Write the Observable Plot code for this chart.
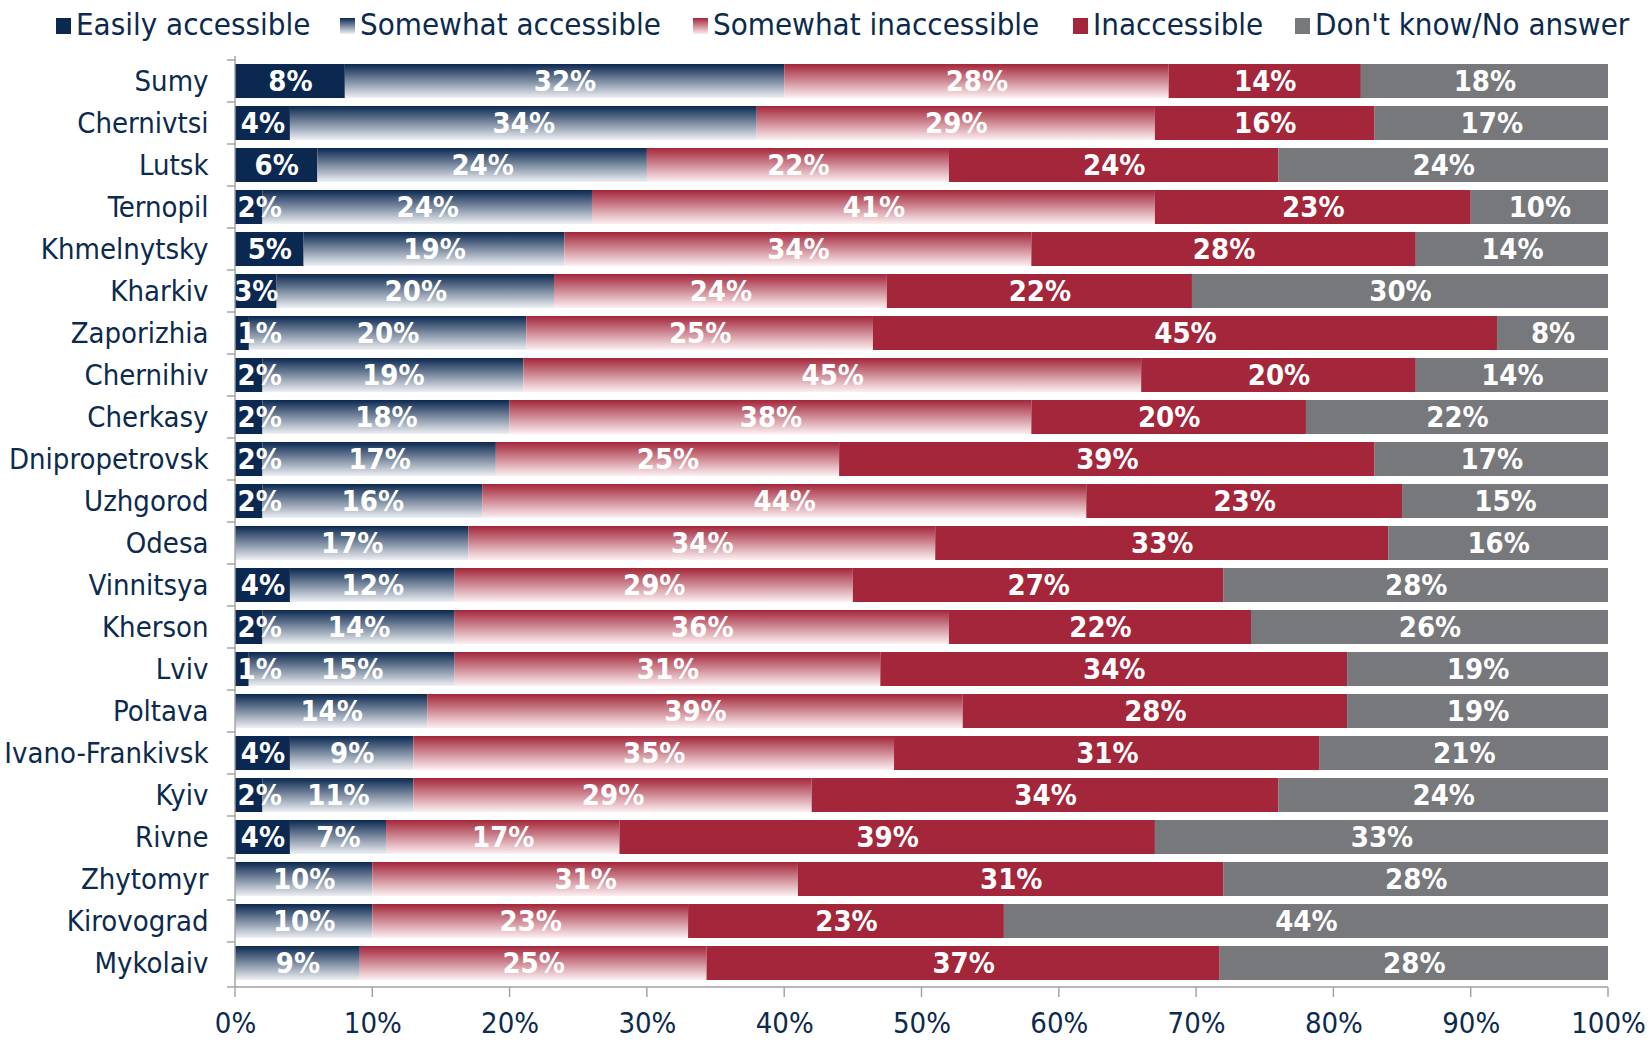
<!DOCTYPE html>
<html><head><meta charset="utf-8">
<script src="https://cdn.jsdelivr.net/npm/d3@7"></script>
<script src="https://cdn.jsdelivr.net/npm/@observablehq/plot@0.6"></script>
<style>
html,body{margin:0;padding:0;background:#fff;}
body{font-family:"DejaVu Sans Condensed","Liberation Sans Narrow",sans-serif;color:#0c2a4e;width:1648px;height:1042px;overflow:hidden;}
#legend{position:relative;height:46px;}
.item{position:absolute;top:6px;display:flex;align-items:center;font-size:31px;white-space:nowrap;}
.sw{width:15px;height:16px;margin-right:5px;margin-top:4px;}
#chart svg{display:block;font-family:"DejaVu Sans Condensed","Liberation Sans Narrow",sans-serif;}
</style></head><body>
<div id="legend"></div>
<div id="chart"></div>
<script>
const cities = ["Sumy","Chernivtsi","Lutsk","Ternopil","Khmelnytsky","Kharkiv","Zaporizhia","Chernihiv","Cherkasy","Dnipropetrovsk","Uzhgorod","Odesa","Vinnitsya","Kherson","Lviv","Poltava","Ivano-Frankivsk","Kyiv","Rivne","Zhytomyr","Kirovograd","Mykolaiv"];
const categories = ["Easily accessible","Somewhat accessible","Somewhat inaccessible","Inaccessible","Don't know/No answer"];
const easilyAccessible     = [8,4,6,2,5,3,1,2,2,2,2,0,4,2,1,0,4,2,4,0,0,0];
const somewhatAccessible   = [32,34,24,24,19,20,20,19,18,17,16,17,12,14,15,14,9,11,7,10,10,9];
const somewhatInaccessible = [28,29,22,41,34,24,25,45,38,25,44,34,29,36,31,39,35,29,17,31,23,25];
const inaccessible         = [14,16,24,23,28,22,45,20,20,39,23,33,27,22,34,28,31,34,39,31,23,37];
const dontKnow             = [18,17,24,10,14,30,8,14,22,17,15,16,28,26,19,19,21,24,33,28,44,28];
const xTicks = [0,0.1,0.2,0.3,0.4,0.5,0.6,0.7,0.8,0.9,1];

const series = [easilyAccessible, somewhatAccessible, somewhatInaccessible, inaccessible, dontKnow];
const data = [];
cities.forEach((c, i) => categories.forEach((k, j) => data.push({city: c, category: k, value: series[j][i]})));

const navy = "#0b2850", red = "#a3263a", gray = "#77787c";
const fills = [navy, "url(#gradNavy)", "url(#gradRed)", red, gray];
const swatchCss = [navy, `linear-gradient(${navy}, #eef0f3)`, `linear-gradient(${red}, #fbeef0)`, red, gray];

// legend
const legendX = [56, 340, 693, 1073, 1295];
const legend = d3.select("#legend");
categories.forEach((k, j) => {
  const it = legend.append("div").attr("class", "item").style("left", legendX[j] + "px");
  it.append("div").attr("class", "sw").style("background", swatchCss[j]);
  it.append("span").text(k);
});

function defs() {
  const d = d3.create("svg:defs");
  const g1 = d.append("linearGradient").attr("id", "gradNavy").attr("x1", 0).attr("y1", 0).attr("x2", 0).attr("y2", 1);
  g1.append("stop").attr("offset", "0%").attr("stop-color", navy);
  g1.append("stop").attr("offset", "100%").attr("stop-color", "#eef0f3");
  const g2 = d.append("linearGradient").attr("id", "gradRed").attr("x1", 0).attr("y1", 0).attr("x2", 0).attr("y2", 1);
  g2.append("stop").attr("offset", "0%").attr("stop-color", red);
  g2.append("stop").attr("offset", "100%").attr("stop-color", "#fcf0f2");
  return d.node();
}

function guides(index, scales, values, dims) {
  const g = d3.create("svg:g").attr("stroke", "#a0a0a0").attr("stroke-width", 1.4).attr("fill", "none");
  const y = scales.y, x = scales.x;
  const step = y.step(), bw = y.bandwidth();
  const x0 = x(0), x1 = x(1);
  const top = dims.marginTop, bottom = dims.height - dims.marginBottom;
  g.append("line").attr("x1", x0).attr("x2", x0).attr("y1", top).attr("y2", bottom);
  g.append("line").attr("x1", x0).attr("x2", x1).attr("y1", bottom).attr("y2", bottom);
  const bounds = cities.map(c => y(c) + bw / 2 - step / 2).concat([bottom]);
  bounds.forEach(b => g.append("line").attr("x1", x0 - 8).attr("x2", x0).attr("y1", b).attr("y2", b));
  xTicks.forEach(t => g.append("line").attr("x1", x(t)).attr("x2", x(t)).attr("y1", bottom).attr("y2", bottom + 10));
  return g.node();
}

const stackOpts = {x: "value", y: "city", z: "category", order: categories, offset: "normalize"};
const isTinyFirst = d => d.category === categories[0] && d.value > 0 && d.value <= 2;

const chart = Plot.plot({
  width: 1648,
  height: 996,
  marginLeft: 235,
  marginRight: 40,
  marginTop: 10,
  marginBottom: 55,
  style: {background: "#fff", color: "#0c2a4e", fontSize: "29px"},
  x: {domain: [0, 1], axis: null},
  y: {domain: cities, paddingInner: 0.2, paddingOuter: 0.1, axis: null},
  color: {domain: categories, range: fills},
  marks: [
    defs,
    Plot.barX(data, Plot.stackX({...stackOpts, fill: "category"})),
    Plot.text(data, Plot.stackX({...stackOpts, text: d => (d.value === 0 || isTinyFirst(d)) ? "" : d.value + "%", fill: "white", fontWeight: "bold", fontSize: 29})),
    Plot.text(data, Plot.stackX1({...stackOpts, text: d => isTinyFirst(d) ? d.value + "%" : "", textAnchor: "start", dx: 2, fill: "white", fontWeight: "bold", fontSize: 29})),
    guides,
    Plot.axisY({tickSize: 0, tickPadding: 27, fontSize: 29, fill: "#0c2a4e", label: null}),
    Plot.axisX({ticks: xTicks, tickFormat: d => Math.round(d * 100) + "%", tickSize: 0, tickPadding: 25, fontSize: 29, fill: "#0c2a4e", label: null})
  ]
});
document.getElementById("chart").appendChild(chart);
</script>
</body></html>
